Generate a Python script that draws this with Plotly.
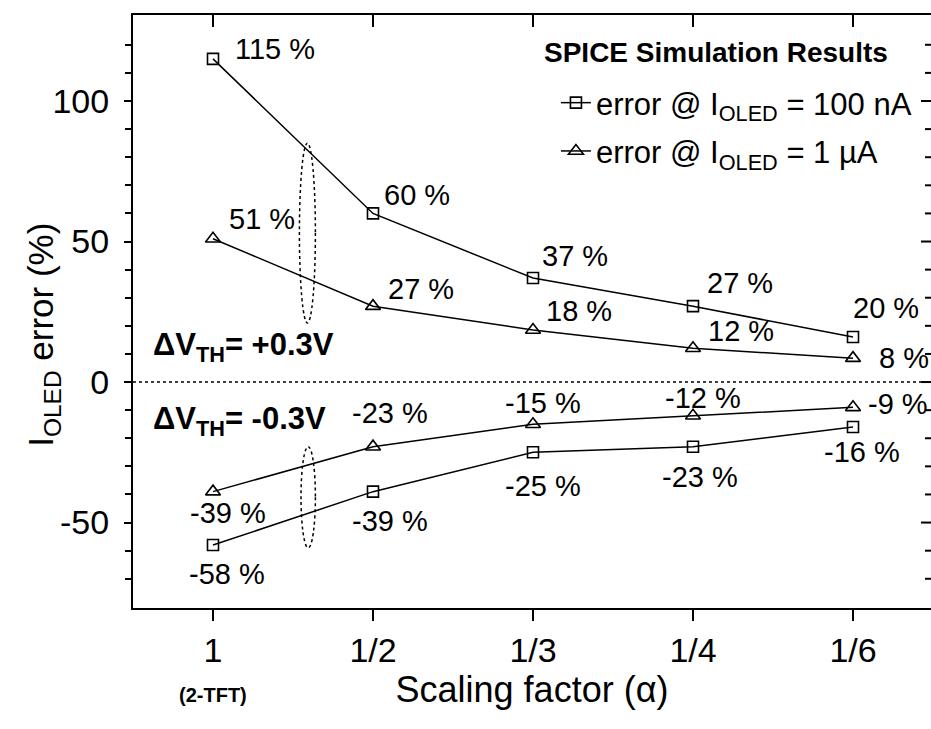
import plotly.graph_objects as go

# ---------------- data ----------------
categories = ["1", "1/2", "1/3", "1/4", "1/6"]
x_idx = [0, 1, 2, 3, 4]

pos_100nA = [115, 60, 37, 27, 16]
neg_100nA = [-58, -39, -25, -23, -16]
pos_1uA = [51, 27, 18.5, 12, 8.5]
neg_1uA = [-39, -23, -15, -12, -9]

lbl_pos_100nA = ["115 %", "60 %", "37 %", "27 %", "20 %"]
lbl_neg_100nA = ["-58 %", "-39 %", "-25 %", "-23 %", "-16 %"]
lbl_pos_1uA = ["51 %", "27 %", "18 %", "12 %", "8 %"]
lbl_neg_1uA = ["-39 %", "-23 %", "-15 %", "-12 %", "-9 %"]

y_major = [-50, 0, 50, 100]
y_major_text = ["-50", "0", "50", "100"]
y_minor = [-70, -60, -40, -30, -20, -10, 10, 20, 30, 40, 60, 70, 80, 90, 110, 120]

FONT = "Liberation Sans, Arial, sans-serif"
PLOT_W, PLOT_H = 798, 593

fig = go.Figure()

def series_xy(pos, neg):
    return x_idx + [None] + x_idx, pos + [None] + neg

xs, ys = series_xy(pos_100nA, neg_100nA)
fig.add_trace(go.Scatter(
    x=xs, y=ys, mode="lines+markers", connectgaps=False,
    name="error @ I<sub>OLED</sub> = 100 nA", legendgroup="a",
    line=dict(color="black", width=1.5),
    marker=dict(symbol="square-open", size=11, color="black", line=dict(width=1.6)),
))
xs, ys = series_xy(pos_1uA, neg_1uA)
fig.add_trace(go.Scatter(
    x=xs, y=ys, mode="lines+markers", connectgaps=False,
    name="error @ I<sub>OLED</sub> = 1 µA", legendgroup="b",
    line=dict(color="black", width=1.5),
    marker=dict(symbol="triangle-up-open", size=13, color="black", line=dict(width=1.6)),
))

# ---------------- value labels ----------------
def add_labels(vals, labels, offsets):
    for xi, v, t, (dx, dy, anc) in zip(x_idx, vals, labels, offsets):
        fig.add_annotation(x=xi, y=v, text=t, showarrow=False,
                           xanchor=anc, yanchor="middle", xshift=dx, yshift=dy,
                           font=dict(family=FONT, size=29, color="black"))

add_labels(pos_100nA, lbl_pos_100nA,
           [(20, 10, "left"), (9, 18, "left"), (7, 22, "left"), (12, 23, "left"), (-2, 29, "left")])
add_labels(pos_1uA, lbl_pos_1uA,
           [(14, 20, "left"), (13, 17, "left"), (11, 19, "left"), (13, 17, "left"), (24, 0, "left")])
add_labels(neg_1uA, lbl_neg_1uA,
           [(15, -21, "center"), (17, 34, "center"), (10, 21, "center"), (10, 18, "center"), (13, 3, "left")])
add_labels(neg_100nA, lbl_neg_100nA,
           [(14, -29, "center"), (17, -29, "center"), (10, -34, "center"), (7, -30, "center"), (9, -25, "center")])

# ---------------- Delta V_TH text ----------------
fig.add_annotation(xref="paper", yref="y", x=0.022, y=12.5, xanchor="left", yanchor="middle",
                   text="<b>ΔV<sub>TH</sub>= +0.3V</b>", showarrow=False,
                   font=dict(family=FONT, size=31, color="black"))
fig.add_annotation(xref="paper", yref="y", x=0.022, y=-14.0, xanchor="left", yanchor="middle",
                   text="<b>ΔV<sub>TH</sub>= -0.3V</b>", showarrow=False,
                   font=dict(family=FONT, size=31, color="black"))

# (2-TFT) under first tick
fig.add_annotation(x=0, xref="x", yref="paper", y=-0.125, yanchor="top",
                   text="<b>(2-TFT)</b>", showarrow=False,
                   font=dict(family=FONT, size=20, color="black"))

# y-axis title
fig.add_annotation(xref="paper", yref="paper", x=-0.112, y=0.46, xanchor="center", yanchor="middle",
                   text="I<sub>OLED</sub> error (%)", textangle=-90, showarrow=False,
                   font=dict(family=FONT, size=35, color="black"))

# legend title
fig.add_annotation(xref="paper", yref="paper", x=0.512, y=(608 - 53) / PLOT_H, xanchor="left", yanchor="middle",
                   text="<b>SPICE Simulation Results</b>", showarrow=False,
                   font=dict(family=FONT, size=28, color="black"))

# ---------------- shapes ----------------
fig.add_shape(type="line", xref="paper", yref="y", x0=0, x1=1, y0=0, y1=0,
              line=dict(color="black", width=1.5, dash="dot"))
fig.add_shape(type="circle", xref="x", yref="y", x0=0.54, x1=0.64, y0=21, y1=85,
              line=dict(color="black", width=1.5, dash="dot"))
fig.add_shape(type="circle", xref="x", yref="y", x0=0.55, x1=0.64, y0=-59, y1=-23,
              line=dict(color="black", width=1.5, dash="dot"))

# inward tick marks on the top frame (at the categories) and the right frame
for xi in x_idx:
    fig.add_shape(type="line", xref="x", yref="paper", x0=xi, x1=xi, y0=1, y1=1 - 12 / PLOT_H,
                  line=dict(color="black", width=2))
for yv in y_major:
    fig.add_shape(type="line", xref="paper", yref="y", x0=1, x1=1 - 10 / PLOT_W, y0=yv, y1=yv,
                  line=dict(color="black", width=2))
for yv in y_minor:
    fig.add_shape(type="line", xref="paper", yref="y", x0=1, x1=1 - 6 / PLOT_W, y0=yv, y1=yv,
                  line=dict(color="black", width=2))

# ---------------- layout ----------------
xr = [-0.5, 4.4875]
yr = [-80.4, 130.6]
fig.update_layout(
    width=931, height=729,
    margin=dict(l=133, r=0, t=15, b=121),
    paper_bgcolor="white", plot_bgcolor="white",
    font=dict(family=FONT, color="black"),
    showlegend=True,
    legend=dict(
        x=0.53, y=(608 - 76) / PLOT_H, xanchor="left", yanchor="top",
        bgcolor="rgba(0,0,0,0)",
        font=dict(family=FONT, size=31, color="black"),
        itemwidth=30, tracegroupgap=5,
    ),
    xaxis=dict(
        range=xr, tickmode="array", tickvals=x_idx, ticktext=categories,
        showgrid=False, zeroline=False, showline=True, mirror=True, linecolor="black", linewidth=2,
        ticks="outside", ticklen=11, tickwidth=2, tickcolor="black",
        tickfont=dict(family=FONT, size=34, color="black"),
        title=dict(text="Scaling factor (α)", font=dict(family=FONT, size=36, color="black"), standoff=4),
    ),
    yaxis=dict(
        range=yr, tickmode="array", tickvals=y_major, ticktext=y_major_text,
        showgrid=False, zeroline=False, showline=True, linecolor="black", linewidth=2,
        ticks="outside", ticklen=7, tickwidth=2, tickcolor="black", ticklabelstandoff=8,
        tickfont=dict(family=FONT, size=34, color="black"),
        minor=dict(tickvals=y_minor, ticks="outside", ticklen=6, tickwidth=2, tickcolor="black"),
    ),
)

fig.write_html("out.html")
